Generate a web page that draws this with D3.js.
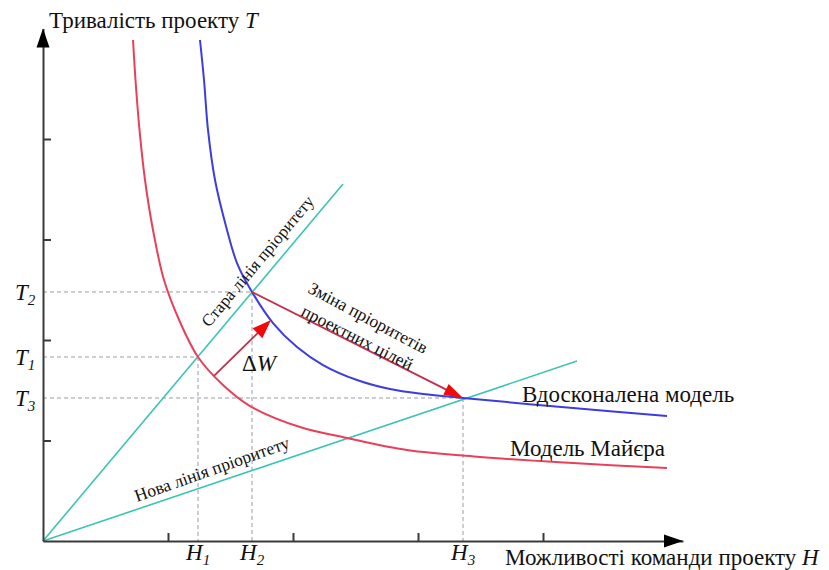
<!DOCTYPE html>
<html><head><meta charset="utf-8">
<script src="https://cdn.jsdelivr.net/npm/d3@7"></script>
<style>body{margin:0;background:#fff}</style>
</head><body><svg id="c" width="829" height="570" font-family="Liberation Serif"></svg>
<script>
// ---- data (axis units) ----
const tickH = [1, 2, 3, 4];
const tickT = [1, 2, 3, 4];
const meyerH = [0.72, 0.74, 0.772, 0.816, 0.88, 0.968, 1.096, 1.24, 1.44, 1.656, 2.056, 2.432, 2.912, 3.496, 4.24, 4.992];
const meyerT = [4.985, 4.587, 4.09, 3.592, 3.095, 2.597, 2.179, 1.831, 1.552, 1.343, 1.134, 1.025, 0.905, 0.836, 0.776, 0.726];
const improvedH = [1.256, 1.288, 1.32, 1.376, 1.472, 1.552, 1.672, 1.84, 2.032, 2.24, 2.512, 2.776, 3.04, 3.36, 4.24, 4.992];
const improvedT = [4.985, 4.587, 4.09, 3.592, 3.095, 2.766, 2.478, 2.169, 1.93, 1.751, 1.602, 1.512, 1.463, 1.423, 1.323, 1.244];
const oldPriorityH = [0, 2.4];
const oldPriorityT = [0, 3.552];
const newPriorityH = [0, 4.272];
const newPriorityT = [0, 1.791];
const markIndex = ["1", "2", "3"];
const markH = [1.24, 1.672, 3.36];
const markT = [1.831, 2.478, 1.423];
const deltaWH = [1.368, 1.824];
const deltaWT = [1.642, 2.199];
const shiftH = [1.672, 3.36];
const shiftT = [2.478, 1.423];

const svg = d3.select("#c");
const x = d3.scaleLinear().domain([0, 5.12]).range([43, 683]);
const y = d3.scaleLinear().domain([0, 5.1]).range([541, 28.45]);
const axisColor = "#3a3a3a";

const txt = () => svg.append("text").attr("font-family", "Liberation Serif").style("font-family", '"Liberation Serif"').attr("fill", "#111");

// dashed guides
const guides = svg.append("g").attr("stroke", "#9a9aa8").attr("stroke-width", 1).attr("stroke-dasharray", "4,3").attr("fill", "none");
markH.forEach((h, i) => {
  guides.append("line").attr("x1", x(0)).attr("x2", x(h)).attr("y1", y(markT[i])).attr("y2", y(markT[i]));
  guides.append("line").attr("x1", x(h)).attr("x2", x(h)).attr("y1", y(markT[i])).attr("y2", y(0));
});

// priority lines
const lineGen = d3.line().x(d => x(d[0])).y(d => y(d[1]));
svg.append("path").attr("d", lineGen(d3.zip(oldPriorityH, oldPriorityT))).attr("stroke", "#3cc4b4").attr("stroke-width", 1.6).attr("fill", "none");
svg.append("path").attr("d", lineGen(d3.zip(newPriorityH, newPriorityT))).attr("stroke", "#3cc4b4").attr("stroke-width", 1.6).attr("fill", "none");

// curves
const curveGen = d3.line().x(d => x(d[0])).y(d => y(d[1])).curve(d3.curveCatmullRom.alpha(0.5));
svg.append("path").attr("d", curveGen(d3.zip(meyerH, meyerT))).attr("stroke", "#e8405a").attr("stroke-width", 2).attr("fill", "none");
svg.append("path").attr("d", curveGen(d3.zip(improvedH, improvedT))).attr("stroke", "#3c3ce0").attr("stroke-width", 2).attr("fill", "none");

// arrows
function arrow(hs, ts, headLen, headW) {
  const x1 = x(hs[0]), y1 = y(ts[0]), x2 = x(hs[1]), y2 = y(ts[1]);
  const dx = x2 - x1, dy = y2 - y1, L = Math.hypot(dx, dy), ux = dx / L, uy = dy / L;
  const bx = x2 - ux * headLen, by = y2 - uy * headLen;
  svg.append("line").attr("x1", x1).attr("y1", y1).attr("x2", bx + ux * 2).attr("y2", by + uy * 2)
    .attr("stroke", "#c0304c").attr("stroke-width", 1.8);
  svg.append("path").attr("d", `M${x2},${y2}L${bx - uy * headW / 2},${by + ux * headW / 2}L${bx + uy * headW / 2},${by - ux * headW / 2}Z`)
    .attr("fill", "#f00a0a");
}
arrow(deltaWH, deltaWT, 19, 14);
arrow(shiftH, shiftT, 19, 12);

// axes
const gx = svg.append("g").attr("transform", `translate(0,${y(0)})`)
  .call(d3.axisBottom(x).tickValues(tickH).tickSize(-8).tickSizeOuter(0).tickFormat(""));
const gy = svg.append("g").attr("transform", `translate(${x(0)},0)`)
  .call(d3.axisLeft(y).tickValues(tickT).tickSize(-8).tickSizeOuter(0).tickFormat(""));
[gx, gy].forEach(g => { g.selectAll("path,line").attr("stroke", axisColor).attr("stroke-width", 2); });
svg.append("path").attr("d", `M${x(5.12)},${y(0)}L${x(5.12) - 19},${y(0) - 6.5}L${x(5.12) - 19},${y(0) + 6.5}Z`).attr("fill", "#000");
svg.append("path").attr("d", `M${x(0)},${y(5.1)}L${x(0) - 6.5},${y(5.1) + 19}L${x(0) + 6.5},${y(5.1) + 19}Z`).attr("fill", "#000");

const ty = txt().attr("x", 49).attr("y", 28).attr("font-size", 23);
ty.append("tspan").text("Тривалість проекту ");
ty.append("tspan").attr("font-style", "italic").text("T");
const tx = txt().attr("x", 505).attr("y", 565).attr("font-size", 23);
tx.append("tspan").text("Можливості команди проекту ");
tx.append("tspan").attr("font-style", "italic").text("H");

markIndex.forEach((k, i) => {
  const t = txt().attr("x", 15).attr("y", y(markT[i]) + 8).attr("font-size", 23).attr("font-style", "italic");
  t.append("tspan").text("T");
  t.append("tspan").attr("font-size", 15).attr("dy", 5).text(k);
  const h = txt().attr("x", x(markH[i]) - 12).attr("y", 560).attr("font-size", 23).attr("font-style", "italic");
  h.append("tspan").text("H");
  h.append("tspan").attr("font-size", 15).attr("dy", 5).text(k);
});

txt().attr("x", 522).attr("y", 402).attr("font-size", 23).text("Вдосконалена модель");
txt().attr("x", 510).attr("y", 456).attr("font-size", 23).text("Модель Майєра");

const dw = txt().attr("x", 242).attr("y", 371).attr("font-size", 23);
dw.append("tspan").text("Δ");
dw.append("tspan").attr("font-style", "italic").text("W");

txt().attr("transform", "translate(209,328) rotate(-50)").attr("font-size", 17).text("Стара лінія пріоритету");
txt().attr("transform", "translate(137,502) rotate(-19.5)").attr("font-size", 17.5).text("Нова лінія пріоритету");
txt().attr("transform", "translate(307,292) rotate(28)").attr("font-size", 17.5).text("Зміна пріоритетів");
txt().attr("transform", "translate(300,315) rotate(27)").attr("font-size", 17.5).text("проектних цілей");
</script></body></html>
